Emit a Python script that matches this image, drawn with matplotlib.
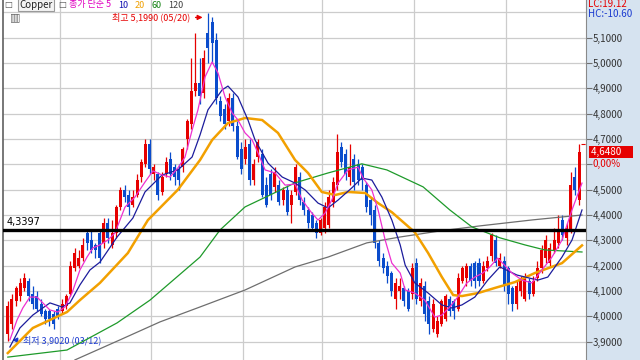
import matplotlib
matplotlib.use('Agg')
import matplotlib.pyplot as plt
from matplotlib.patches import Rectangle

plt.rcParams['font.family'] = ['Noto Sans CJK KR', 'DejaVu Sans']

# 일봉 시가/종가/고가/저가 (03/12 ~ 09/26)
opens = [3.93, 3.97, 4.06, 4.08, 4.11, 4.14, 4.09, 4.08, 4.05, 4.02,
         4.02, 4.01, 4.03, 4.02, 4.04, 4.09, 4.19, 4.20, 4.23, 4.33,
         4.30, 4.28, 4.33, 4.29, 4.37, 4.28, 4.33, 4.43, 4.50, 4.48,
         4.44, 4.48, 4.55, 4.60, 4.68, 4.56, 4.56, 4.49, 4.56, 4.62,
         4.59, 4.58, 4.59, 4.70, 4.76, 4.89, 4.92, 4.88, 5.12, 5.16,
         5.09, 4.85, 4.82, 4.77, 4.86, 4.75, 4.66, 4.62, 4.68, 4.54,
         4.63, 4.64, 4.52, 4.56, 4.51, 4.52, 4.46, 4.50, 4.44, 4.49,
         4.55, 4.45, 4.42, 4.40, 4.37, 4.33, 4.35, 4.36, 4.45, 4.52,
         4.67, 4.64, 4.55, 4.62, 4.60, 4.59, 4.52, 4.46, 4.42, 4.29,
         4.23, 4.20, 4.17, 4.07, 4.10, 4.11, 4.10, 4.09, 4.21, 4.06,
         4.12, 4.06, 3.95, 3.93, 3.97, 3.99, 4.07, 4.06, 4.03, 4.14,
         4.15, 4.20, 4.21, 4.21, 4.14, 4.19, 4.24, 4.30, 4.20, 4.22,
         4.19, 4.11, 4.05, 4.10, 4.07, 4.14, 4.09, 4.15, 4.19, 4.23,
         4.21, 4.26, 4.29, 4.38, 4.31, 4.34, 4.55, 4.46]
closes = [4.04, 4.07, 4.11, 4.13, 4.15, 4.08, 4.05, 4.03, 4.01, 3.99,
          3.99, 3.97, 4.00, 4.05, 4.08, 4.20, 4.25, 4.23, 4.28, 4.29,
          4.26, 4.26, 4.23, 4.37, 4.31, 4.33, 4.43, 4.50, 4.47, 4.43,
          4.47, 4.54, 4.61, 4.68, 4.58, 4.59, 4.48, 4.55, 4.61, 4.56,
          4.55, 4.54, 4.66, 4.77, 4.89, 4.92, 4.87, 5.02, 5.06, 5.08,
          4.86, 4.79, 4.76, 4.86, 4.75, 4.63, 4.58, 4.67, 4.54, 4.60,
          4.69, 4.48, 4.44, 4.48, 4.57, 4.45, 4.50, 4.41, 4.48, 4.59,
          4.46, 4.42, 4.37, 4.35, 4.33, 4.38, 4.43, 4.47, 4.53, 4.65,
          4.61, 4.56, 4.59, 4.53, 4.54, 4.54, 4.43, 4.40, 4.29, 4.22,
          4.19, 4.16, 4.10, 4.13, 4.12, 4.06, 4.03, 4.19, 4.07, 4.13,
          4.01, 3.97, 4.05, 3.98, 4.06, 4.08, 4.02, 4.02, 4.15, 4.19,
          4.20, 4.14, 4.14, 4.14, 4.20, 4.22, 4.32, 4.21, 4.23, 4.12,
          4.09, 4.05, 4.12, 4.15, 4.15, 4.09, 4.14, 4.19, 4.26, 4.30,
          4.27, 4.30, 4.34, 4.32, 4.35, 4.52, 4.50, 4.648]
highs = [4.06, 4.09, 4.12, 4.15, 4.17, 4.15, 4.12, 4.10, 4.07, 4.03,
         4.03, 4.02, 4.04, 4.07, 4.09, 4.22, 4.27, 4.26, 4.31, 4.34,
         4.34, 4.29, 4.34, 4.39, 4.39, 4.38, 4.44, 4.51, 4.52, 4.50,
         4.50, 4.56, 4.62, 4.70, 4.70, 4.60, 4.57, 4.57, 4.63, 4.65,
         4.60, 4.60, 4.67, 4.78, 5.02, 5.12, 5.02, 5.05, 5.199, 5.18,
         5.12, 4.87, 4.84, 4.88, 4.88, 4.77, 4.69, 4.70, 4.70, 4.62,
         4.70, 4.66, 4.55, 4.58, 4.59, 4.54, 4.51, 4.52, 4.50, 4.60,
         4.57, 4.47, 4.43, 4.41, 4.38, 4.39, 4.45, 4.50, 4.55, 4.72,
         4.69, 4.66, 4.68, 4.64, 4.62, 4.60, 4.53, 4.47, 4.44, 4.30,
         4.25, 4.22, 4.18, 4.15, 4.15, 4.12, 4.11, 4.21, 4.23, 4.15,
         4.14, 4.08, 4.07, 4.00, 4.07, 4.09, 4.08, 4.07, 4.17, 4.20,
         4.21, 4.21, 4.22, 4.23, 4.22, 4.24, 4.33, 4.32, 4.25, 4.24,
         4.20, 4.12, 4.14, 4.16, 4.17, 4.15, 4.16, 4.22, 4.28, 4.32,
         4.29, 4.35, 4.40, 4.40, 4.37, 4.57, 4.59, 4.68]
lows = [3.902, 3.95, 4.04, 4.06, 4.10, 4.06, 4.03, 4.02, 4.00, 3.97,
        3.96, 3.95, 3.99, 4.01, 4.03, 4.08, 4.18, 4.19, 4.22, 4.26,
        4.25, 4.23, 4.21, 4.27, 4.29, 4.27, 4.31, 4.42, 4.45, 4.40,
        4.43, 4.47, 4.53, 4.59, 4.56, 4.54, 4.46, 4.48, 4.55, 4.54,
        4.52, 4.50, 4.57, 4.66, 4.74, 4.87, 4.84, 4.86, 5.00, 5.00,
        4.84, 4.77, 4.74, 4.75, 4.73, 4.62, 4.56, 4.60, 4.52, 4.52,
        4.61, 4.47, 4.43, 4.46, 4.49, 4.44, 4.44, 4.40, 4.37, 4.48,
        4.44, 4.40, 4.35, 4.34, 4.31, 4.32, 4.33, 4.35, 4.43, 4.50,
        4.59, 4.54, 4.52, 4.50, 4.52, 4.50, 4.41, 4.36, 4.27, 4.20,
        4.17, 4.13, 4.08, 4.03, 4.07, 4.04, 4.02, 4.07, 4.05, 4.04,
        3.98, 3.93, 3.94, 3.92, 3.96, 3.98, 4.00, 3.99, 4.02, 4.13,
        4.12, 4.12, 4.11, 4.12, 4.13, 4.18, 4.22, 4.20, 4.19, 4.10,
        4.05, 4.02, 4.03, 4.08, 4.06, 4.07, 4.08, 4.14, 4.17, 4.21,
        4.20, 4.25, 4.27, 4.30, 4.28, 4.33, 4.48, 4.44]

# 이동평균선 (그림에서 읽은 값, x = 봉 번호)
ma5_x = [0.5, 2.2, 3.6, 5.3, 7.0, 8.4, 10.1, 12.0, 13.7, 15.4, 17.3, 19.0, 20.4, 22.1,
         24.0, 25.7, 28.1, 30.5, 32.9, 34.8, 37.0, 38.9, 40.8, 42.5, 44.2, 45.6, 47.3,
         49.0, 50.4, 52.1, 53.8, 55.2, 56.9, 58.6, 60.0, 61.7, 64.1, 66.5, 68.9, 70.6,
         72.9, 74.4, 76.1, 77.7, 79.2, 81.6, 84.0, 85.2, 87.3, 88.8, 90.5, 92.1, 94.1,
         95.3, 97.6, 100.0, 102.4, 104.1, 106.0, 107.9, 110.1, 112.0, 113.9, 115.6,
         117.5, 120.9, 123.3, 125.7, 128.1, 130.5, 132.9, 135.3, 137.7]
ma5_y = [3.907, 3.985, 4.033, 4.076, 4.076, 4.053, 4.025, 4.017, 4.037, 4.092, 4.183,
         4.234, 4.270, 4.282, 4.301, 4.329, 4.431, 4.471, 4.530, 4.574, 4.558, 4.550,
         4.586, 4.629, 4.735, 4.815, 4.945, 5.004, 4.961, 4.866, 4.803, 4.775, 4.724,
         4.696, 4.645, 4.578, 4.566, 4.518, 4.522, 4.459, 4.408, 4.380, 4.408, 4.459,
         4.526, 4.578, 4.589, 4.546, 4.499, 4.420, 4.301, 4.210, 4.171, 4.104, 4.092,
         4.064, 3.997, 4.005, 4.037, 4.076, 4.132, 4.155, 4.171, 4.195, 4.230, 4.171,
         4.143, 4.132, 4.183, 4.234, 4.301, 4.420, 4.526]
ma10_x = [0.5, 2.9, 6.0, 10.1, 13.0, 14.9, 17.3, 19.7, 22.1, 26.2, 30.0, 32.9, 37.0,
          40.8, 44.2, 46.1, 48.0, 51.4, 52.8, 55.2, 57.6, 59.3, 62.4, 65.8, 68.9, 71.3,
          74.4, 76.8, 79.2, 82.5, 84.9, 87.3, 89.7, 92.1, 94.1, 95.3, 97.6, 100.8,
          104.1, 106.5, 108.9, 112.0, 115.1, 118.0, 122.1, 127.1, 129.5, 132.9, 135.3,
          137.7]
ma10_y = [3.879, 3.954, 4.005, 4.053, 4.037, 4.053, 4.124, 4.183, 4.214, 4.313, 4.388,
          4.491, 4.558, 4.578, 4.629, 4.716, 4.815, 4.894, 4.909, 4.866, 4.775, 4.696,
          4.605, 4.550, 4.526, 4.499, 4.447, 4.428, 4.459, 4.507, 4.546, 4.538, 4.471,
          4.380, 4.282, 4.202, 4.132, 4.092, 4.045, 4.033, 4.045, 4.076, 4.143, 4.195,
          4.163, 4.143, 4.155, 4.234, 4.301, 4.420]
ma20_x = [0, 6.0, 14.2, 17.3, 22.1, 28.8, 33.6, 40.8, 46.1, 49.0, 52.8, 56.9, 61.0,
          64.8, 68.9, 72.0, 75.3, 78.5, 81.6, 85.7, 88.8, 92.1, 97.6, 100.8, 104.1,
          106.8, 108.9, 112.8, 116.8, 121.6, 126.4, 132.9, 137.7]
ma20_y = [3.855, 3.954, 4.017, 4.064, 4.132, 4.250, 4.380, 4.500, 4.617, 4.696, 4.763,
          4.783, 4.775, 4.724, 4.617, 4.566, 4.491, 4.479, 4.491, 4.487, 4.447, 4.411,
          4.332, 4.250, 4.155, 4.084, 4.080, 4.092, 4.112, 4.135, 4.171, 4.210, 4.280]
ma60_x = [0, 14.2, 26.2, 34.1, 46.1, 50.9, 56.9, 62.9, 68.9, 76.8, 84.9, 90.9, 99.6,
          106.0, 111.3, 118.0, 124.0, 128.8, 137.7]
ma60_y = [3.839, 3.867, 3.974, 4.064, 4.234, 4.341, 4.432, 4.479, 4.527, 4.566, 4.602,
          4.578, 4.511, 4.420, 4.353, 4.310, 4.282, 4.262, 4.254]
ma120_x = [16.1, 26.9, 36.5, 46.1, 56.9, 68.9, 76.8, 86.1, 94.0, 103.6, 113.2, 126.0, 137.7]
ma120_y = [3.828, 3.907, 3.978, 4.037, 4.104, 4.195, 4.234, 4.290, 4.313, 4.337, 4.357,
           4.381, 4.400]

month_starts = [13, 35, 57, 76, 98, 120]
price_ticks = [3.9, 4.0, 4.1, 4.2, 4.3, 4.4, 4.5, 4.6, 4.7, 4.8, 4.9, 5.0, 5.1]
line_level = 4.3397
last_price = 4.648

fig = plt.figure(figsize=(6.4, 3.6), dpi=100)
fig.patches.append(Rectangle((586 / 640, 0), 54 / 640, 1, transform=fig.transFigure,
                             color='#d6e3f0', zorder=-1))
ax = fig.add_axes([3 / 640, 0, 583 / 640, 1])
ax.set_xlim(-1.15, 138.66)
ax.set_ylim(3.8276, 5.2488)

# 격자
for p in price_ticks + [5.2]:
    ax.axhline(p, color='#cccccc', lw=0.9, zorder=0)
for m in month_starts:
    ax.axvline(m - 0.6, color='#cccccc', lw=0.9, zorder=0)

# 캔들
for i in range(len(closes)):
    o, c, h, l = opens[i], closes[i], highs[i], lows[i]
    col = '#e60000' if c >= o else '#0a4ccc'
    ax.vlines(i, l, h, color=col, lw=0.9, zorder=2)
    ax.bar(i, max(abs(c - o), 0.004), bottom=min(o, c), width=0.72, color=col,
           edgecolor='none', zorder=3)

# 이동평균
ax.plot(ma120_x, ma120_y, color='#6e6e6e', lw=0.9, zorder=4)
ax.plot(ma60_x, ma60_y, color='#1e9a2a', lw=0.9, zorder=4)
ax.plot(ma20_x, ma20_y, color='#f2a000', lw=1.8, zorder=4)
ax.plot(ma10_x, ma10_y, color='#1c1c9c', lw=0.9, zorder=5)
ax.plot(ma5_x, ma5_y, color='#ee30d0', lw=0.9, zorder=5)

# 기준선
ax.axhline(line_level, color='black', lw=2.4, zorder=6)
ax.text(-0.4, line_level + 0.012, '4,3397', fontsize=7, color='black',
        va='bottom', ha='left', family=['DejaVu Sans'])

# 최고/최저 표시
ax.annotate('최고 5,1990 (05/20)', xy=(47.4, 5.18), xytext=(43.7, 5.18),
            fontsize=6.5, color='#e60000', ha='right', va='center',
            arrowprops=dict(arrowstyle='-|>', color='#e60000', lw=1, mutation_scale=7))
ax.annotate('최저 3,9020 (03/12)', xy=(0.4, 3.906), xytext=(3.6, 3.906),
            fontsize=6.5, color='#1a3ad0', ha='left', va='center',
            arrowprops=dict(arrowstyle='-|>', color='#1a3ad0', lw=1, mutation_scale=7))

# 오른쪽 가격축 (4,6000 자리는 현재가 박스가 가림)
ax.yaxis.tick_right()
ax.set_yticks(price_ticks)
ax.set_yticklabels(['' if p == 4.6 else f'{p:.4f}'.replace('.', ',') for p in price_ticks])
ax.tick_params(axis='y', length=4, width=0.8, color='#707070', labelsize=7,
               labelcolor='#333333', pad=1)
ax.set_xticks([])
for s in ['top', 'bottom']:
    ax.spines[s].set_visible(False)
ax.spines['right'].set_color('#8a8a8a')
ax.spines['left'].set_color('#606060')
ax.spines['left'].set_linewidth(1.2)

# 현재가 박스
ax.plot([137.4, 138.6], [4.68, 4.68], color='#e60000', lw=0.8, ls='--', zorder=6)
ax.text(1.008, last_price, '4,6480     ', transform=ax.get_yaxis_transform(),
        fontsize=7, color='white', va='center', ha='left', clip_on=False,
        bbox=dict(boxstyle='square,pad=0.12', fc='#e60000', ec='none'))
ax.text(1.012, last_price - 0.045, '0,00%', transform=ax.get_yaxis_transform(),
        fontsize=7, color='#e60000', va='center', ha='left')

# 상단 정보
fig.text(588 / 640, 1 - 4 / 360, 'LC:19.12', fontsize=7, color='#e60000',
         va='center', ha='left')
fig.text(588 / 640, 1 - 14 / 360, 'HC:-10.60', fontsize=7, color='#1a3ad0',
         va='center', ha='left')

y_head = 1 - 5 / 360
fig.text(4 / 640, y_head, '□', fontsize=6, color='#555555', va='center',
         family=['DejaVu Sans'])
fig.text(19 / 640, y_head, 'Copper', fontsize=7, color='#222222', va='center',
         bbox=dict(boxstyle='square,pad=0.15', fc='#f4f4f4', ec='#9a9a9a', lw=0.8))
fig.text(58 / 640, y_head, '□', fontsize=6, color='#555555', va='center',
         family=['DejaVu Sans'])
fig.text(69 / 640, y_head, '종가 단순 5', fontsize=6.5, color='#e000c0', va='center')
fig.text(118 / 640, y_head, '10', fontsize=6.5, color='#1010b0', va='center')
fig.text(135 / 640, y_head, '20', fontsize=6.5, color='#f0a000', va='center')
fig.text(152 / 640, y_head, '60', fontsize=6.5, color='#108010', va='center')
fig.text(168 / 640, y_head, '120', fontsize=6.5, color='#404040', va='center')
fig.text(10 / 640, 1 - 17 / 360, '▥', fontsize=8, color='#666666', va='center',
         family=['DejaVu Sans'])

fig.savefig('out.png', dpi=100)
